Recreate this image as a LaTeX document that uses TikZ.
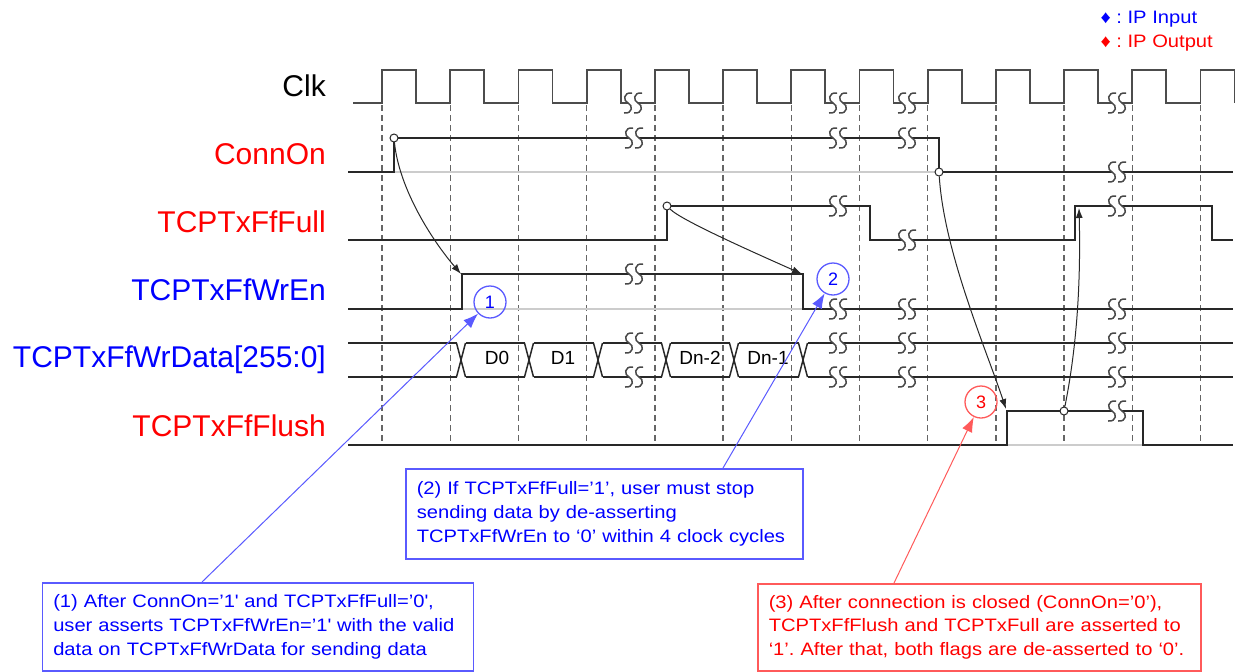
\documentclass[tikz,border=0pt]{standalone}
\usepackage{fontspec}
\setmainfont{Liberation Sans}
\newfontfamily\boxfont[FakeStretch=1.12]{Liberation Sans}
\usetikzlibrary{arrows.meta, math}
\definecolor{myblue}{RGB}{0,0,255}
\definecolor{myred}{RGB}{255,0,0}
\definecolor{lineblue}{RGB}{90,90,255}
\definecolor{linered}{RGB}{255,90,90}
\definecolor{wave}{RGB}{40,40,40}
\frenchspacing

\tikzset{
  sig/.style={color=wave, line width=1.5pt},
  clk/.style={color=black!70, line width=1.8pt},
  edge/.style={color=black!60, line width=1.4pt, dash pattern=on 6pt off 4pt},
  idle/.style={color=black!20, line width=1.5pt},
  lbl/.style={anchor=base east, inner sep=0pt, font=\fontsize{30}{36}\selectfont},
  note/.style={draw, line width=1.5pt, anchor=north west, align=left, inner xsep=11pt,
    font=\boxfont\fontsize{18}{23.6}\selectfont},
  num/.style={circle, draw, line width=1.3pt, minimum size=32pt, inner sep=0pt,
    font=\fontsize{18}{18}\selectfont},
  pt/.style={circle, draw=wave, fill=white, line width=1pt, minimum size=8pt, inner sep=0pt},
  cause/.style={color=wave, line width=1pt, -{Latex[length=10pt, width=7pt]}},
  call/.style={line width=1pt, -{Latex[length=15pt, width=11pt]}},
}

% break mark on a waveform
\newcommand{\wavebrk}[2]{%
  \fill[white] ({#1-5},{#2-3}) rectangle ({#1+5},{#2+3});
  \foreach \s in {-5,5}{
    \draw[color=wave!85, line width=1.5pt] ({#1+\s+4},{#2-10}) .. controls ({#1+\s-5},{#2-11}) and ({#1+\s-5},{#2-2}) .. ({#1+\s},{#2})
      .. controls ({#1+\s+5},{#2+2}) and ({#1+\s+5},{#2+11}) .. ({#1+\s-4},{#2+10});
  }
}

\begin{document}
\begin{tikzpicture}[x=1pt, y=-1pt]
\tikzmath{
\tp=68.2;
\xz=382;
}
\useasboundingbox (0,0) rectangle (1240,672);

% legend
\node[anchor=base west, color=myblue, font=\boxfont\fontsize{18}{20}\selectfont] (legin) at (1097,23.3) {♦ : IP Input};
\node[anchor=base west, color=myred, font=\boxfont\fontsize{18}{20}\selectfont] (legout) at (1097,47.3) {♦ : IP Output};

% signal names
\node[lbl] (clk) at (326,96) {Clk};
\node[lbl, color=myred] (connon) at (326,164) {ConnOn};
\node[lbl, color=myred] (full) at (326,232) {TCPTxFfFull};
\node[lbl, color=myblue] (wren) at (326,300) {TCPTxFfWrEn};
\node[lbl, color=myblue] (wrdata) at (326,367) {TCPTxFfWrData[255:0]};
\node[lbl, color=myred] (flush) at (326,436) {TCPTxFfFlush};

% rising edges
\foreach \i in {0,...,12}{
  \draw[edge] ({\xz+\tp*\i},105) -- ({\xz+\tp*\i},445);
}

\draw[clk] (353,103) \foreach \i in {0,...,12}{ -- ({\xz+\tp*\i},103) -- ++(0,-33) -- ++(34.1,0) -- ++(0,33) };

\draw[idle] (394,172) -- (939,172);
\draw[sig] (348,172) -- (394,172) -- (394,138) -- (939,138) -- (939,172) -- (1233,172);

\draw[sig] (348,240) -- (667,240) -- (667,206) -- (870,206) -- (870,240) -- (1075,240) -- (1075,206) -- (1212,206) -- (1212,240) -- (1233,240);

\draw[idle] (462,309) -- (803,309);
\draw[sig] (348,309) -- (462,309) -- (462,274) -- (803,274) -- (803,309) -- (1233,309);

% data bus
\foreach \a/\b in {348/456.5, 465.5/524.5, 533.5/593.5, 602.5/661.5, 670.5/729.5, 738.5/798.5, 807.5/1233}{
  \draw[sig] (\a,343) -- (\b,343) (\a,377) -- (\b,377);
}
\foreach \t in {461,529,598,666,734,803}{
  \draw[sig] ({\t-4.5},343) -- ({\t+4.5},377) ({\t-4.5},377) -- ({\t+4.5},343);
}
\node[font=\fontsize{19}{19}\selectfont] (d0) at (497,358) {D0};
\node[font=\fontsize{19}{19}\selectfont] (d1) at (563,358) {D1};
\node[font=\fontsize{19}{19}\selectfont] (dn2) at (700,358) {Dn-2};
\node[font=\fontsize{19}{19}\selectfont] (dn1) at (768,358) {Dn-1};

\draw[idle] (1007,445) -- (1143,445);
\draw[sig] (348,445) -- (1007,445) -- (1007,411) -- (1143,411) -- (1143,445) -- (1233,445);

\foreach \x/\y in {633/103, 838/103, 907/103, 1117/103, 634/138, 838/138, 907/138, 1117/172,
  838/206, 907/240, 1117/206, 634/274, 838/309, 907/309, 1117/309,
  634/343, 634/377, 838/343, 838/377, 907/343, 907/377, 1117/343, 1117/377, 1117/411}{
  \wavebrk{\x}{\y}
}

% cause and effect
\node[pt] (p1) at (394,138) {};
\node[pt] (p2) at (667,206) {};
\node[pt] (p3) at (939,172) {};
\node[pt] (p4) at (1064,411) {};
\coordinate (e1) at (461,274);
\coordinate (e2) at (802,274);
\coordinate (e3) at (1006,409);
\coordinate (e4) at (1079,208);
\draw[cause] (p1) .. controls +(5,50) and +(-30,-35) .. (e1);
\draw[cause] (p2) .. controls +(15,15) and +(-40,-18) .. (e2);
\draw[cause] (p3) .. controls +(5,80) and +(-20,-60) .. (e3);
\draw[cause] (p4) .. controls +(12,-60) and +(2,80) .. (e4);

\node[num, draw=lineblue, text=myblue] (c1) at (490,302) {1};
\node[num, draw=lineblue, text=myblue] (c2) at (833,279) {2};
\node[num, draw=linered, text=myred] (c3) at (981,402) {3};

\node[note, draw=lineblue, text=myblue, text width=409pt, minimum height=88pt] (n1) at (41.5,582)
  {(1) After ConnOn=’1\textquotesingle{} and TCPTxFfFull=’0\textquotesingle,\\
   user asserts TCPTxFfWrEn=’1\textquotesingle{} with the valid\\
   data on TCPTxFfWrData for sending data};
\node[note, draw=lineblue, text=myblue, text width=375pt, minimum height=90pt] (n2) at (405,468)
  {(2) If TCPTxFfFull=’1’, user must stop\\
   sending data by de-asserting\\
   TCPTxFfWrEn to ‘0’ within 4 clock cycles};
\node[note, draw=linered, text=myred, text width=421pt, minimum height=87pt] (n3) at (757,583)
  {(3) After connection is closed (ConnOn=’0’),\\
   TCPTxFfFlush and TCPTxFull are asserted to\\
   ‘1’. After that, both flags are de-asserted to ‘0’.};

\draw[call, color=lineblue] ([xshift=160.5pt]n1.north west) -- (c1);
\draw[call, color=lineblue] ([xshift=318pt]n2.north west) -- (c2);
\draw[call, color=linered] ([xshift=137pt]n3.north west) -- (c3);
\end{tikzpicture}
\end{document}
